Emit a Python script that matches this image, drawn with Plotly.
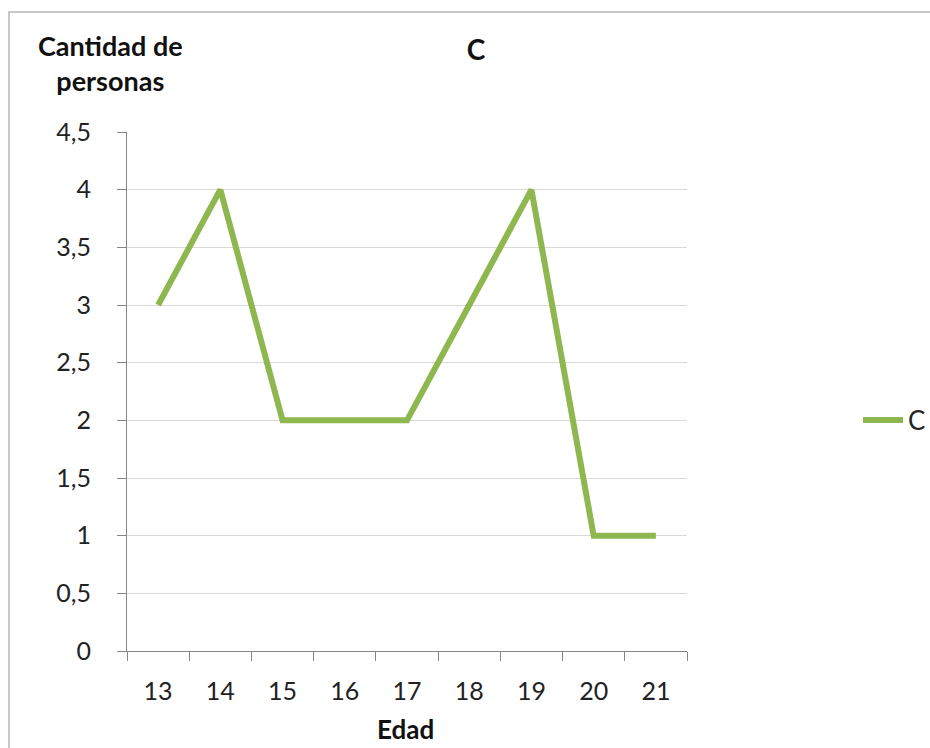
import plotly.graph_objects as go

# Edad (años) y cantidad de personas para el grupo C
edades = ["13", "14", "15", "16", "17", "18", "19", "20", "21"]
personas = [3, 4, 2, 2, 2, 3, 4, 1, 1]
y_ticks = [0, 0.5, 1, 1.5, 2, 2.5, 3, 3.5, 4, 4.5]

W, H = 930, 748
L, R, T, B = 127, 243, 132, 97
pw, ph = W - L - R, H - T - B


def px(x):
    return (x - L) / pw


def py(y):
    return (H - B - y) / ph


FONT = "Lato"
AXIS = "#868686"
GRID = "#D9D9D9"

fig = go.Figure()
fig.add_trace(go.Scatter(
    x=edades, y=personas, mode="lines", name="C",
    line=dict(color="#8FB74F", width=6),
))

fig.update_layout(
    width=W, height=H,
    margin=dict(l=L, r=R, t=T, b=B, autoexpand=False),
    paper_bgcolor="white", plot_bgcolor="white",
    separators=", ",
    font=dict(family=FONT, size=25, color="#222222"),
    title=dict(text="<b>C</b>", x=476 / W, xanchor="center",
               xref="container", yref="container",
               y=1 - 50 / H, yanchor="middle",
               font=dict(family=FONT, size=28, color="#111111")),
    showlegend=True,
    legend=dict(x=px(858), y=py(420), xanchor="left", yanchor="middle",
                itemwidth=40, font=dict(family=FONT, size=26, color="#222222"),
                bgcolor="rgba(0,0,0,0)"),
    xaxis=dict(
        type="category", range=[-0.5, 8.5], tickson="boundaries",
        showgrid=False, showline=True, linecolor=AXIS, linewidth=1,
        ticks="outside", ticklen=9, tickcolor=AXIS,
        ticklabelstandoff=18, zeroline=False,
    ),
    yaxis=dict(
        range=[0, 4.5], tickvals=y_ticks, tickformat=".1~f",
        showgrid=True, gridcolor=GRID, gridwidth=1,
        showline=True, linecolor=AXIS, linewidth=1,
        ticks="outside", ticklen=9, tickcolor=AXIS,
        ticklabelstandoff=21, zeroline=False,
    ),
    annotations=[
        dict(text="<b>Cantidad de<br>personas</b>", xref="paper", yref="paper",
             x=px(110), y=py(63), xanchor="center", yanchor="middle",
             showarrow=False, align="center",
             font=dict(family=FONT, size=27, color="#111111")),
        dict(text="<b>Edad</b>", xref="paper", yref="paper",
             x=px(405), y=py(729), xanchor="center", yanchor="middle",
             showarrow=False, font=dict(family=FONT, size=26, color="#111111")),
    ],
    shapes=[
        dict(type="rect", xref="paper", yref="paper", layer="below",
             x0=px(9), x1=px(940), y0=py(760), y1=py(12),
             line=dict(color="#C8C8C8", width=2)),
    ],
)

fig.write_html("out.html")
